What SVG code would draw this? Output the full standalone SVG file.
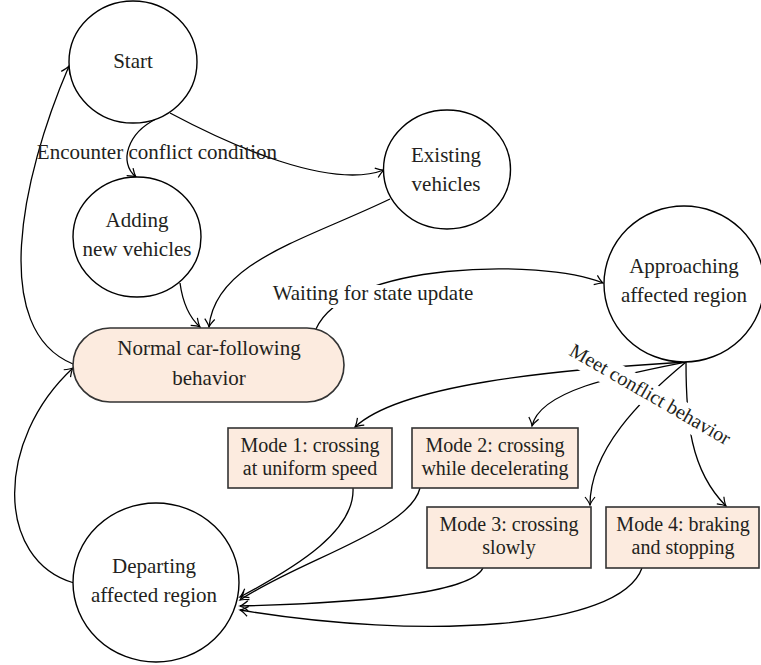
<svg xmlns="http://www.w3.org/2000/svg" width="761" height="665" viewBox="0 0 761 665">
<defs>
<style>
.c{fill:#fff;stroke:#000;stroke-width:1.4}
.b{fill:#fcebdf;stroke:#333;stroke-width:1.6}
.t{font-family:"Liberation Serif","Times New Roman",serif;font-size:21px;fill:#231f20;text-anchor:middle}
.m{font-size:20px}
.e{fill:none;stroke:#000;stroke-width:1.3}
</style>
<marker id="arr" viewBox="-10 -6 12 12" markerWidth="12" markerHeight="12" refX="0" refY="0" orient="auto" markerUnits="userSpaceOnUse">
<path d="M-8,-5 Q-3,-1 0,0 Q-3,1 -8,5" fill="none" stroke="#000" stroke-width="1.2"/>
</marker>
</defs>
<rect width="761" height="665" fill="#fff"/>

<g id="connectors">
<path class="e" d="M156,119 C128,133 118,162 136,177" marker-end="url(#arr)"/>
<path class="e" d="M170,113 C230,145 330,190 384,170" marker-end="url(#arr)"/>
<path class="e" d="M180,283 C183,305 190,318 200,327" marker-end="url(#arr)"/>
<path class="e" d="M390,199 C305,240 215,262 209,327" marker-end="url(#arr)"/>
<path class="e" d="M316,329 C345,262 540,258 603,283" marker-end="url(#arr)"/>
<path class="e" d="M73,364 C-10,330 20,180 69,66" marker-end="url(#arr)"/>
<path class="e" d="M74,583 C-5,560 -5,440 73,368" marker-end="url(#arr)"/>
<path class="e" d="M686,362 C550,370 400,385 355,427" marker-end="url(#arr)"/>
<path class="e" d="M686,362 C620,375 540,390 532,426" marker-end="url(#arr)"/>
<path class="e" d="M686,362 C640,400 590,450 590,505" marker-end="url(#arr)"/>
<path class="e" d="M686,362 C686,420 690,470 726,506" marker-end="url(#arr)"/>
<path class="e" d="M353,488 C355,530 300,565 240,597" marker-end="url(#arr)"/>
<path class="e" d="M420,488 C410,530 300,560 240,600" marker-end="url(#arr)"/>
<path class="e" d="M483,568 C470,595 350,603 240,606" marker-end="url(#arr)"/>
<path class="e" d="M642,568 C620,630 420,640 240,610" marker-end="url(#arr)"/>
<text class="t" x="157" y="159">Encounter conflict condition</text>
<rect x="270" y="285" width="206" height="23" fill="#fff"/>
<text class="t" x="373" y="300">Waiting for state update</text>
<g transform="translate(647,400) rotate(30)">
<rect x="-99" y="-18" width="198" height="26" fill="#fff"/>
<text class="t m" x="0" y="0">Meet conflict behavior</text>
</g>
</g>

<g id="start">
<ellipse class="c" cx="133" cy="62" rx="64" ry="61"/>
<text class="t" x="133" y="68">Start</text>
</g>
<g id="adding">
<ellipse class="c" cx="137" cy="237" rx="64" ry="60"/>
<text class="t" x="137" y="227">Adding</text>
<text class="t" x="137" y="256">new vehicles</text>
</g>
<g id="existing">
<ellipse class="c" cx="447" cy="169.5" rx="63.5" ry="59.5"/>
<text class="t" x="446" y="162">Existing</text>
<text class="t" x="446" y="191">vehicles</text>
</g>
<g id="approaching">
<ellipse class="c" cx="684" cy="284" rx="80" ry="78"/>
<text class="t" x="684" y="273">Approaching</text>
<text class="t" x="684" y="302">affected region</text>
</g>
<g id="normal">
<rect class="b" x="73" y="328" width="271" height="74" rx="37" ry="37"/>
<text class="t" x="209" y="355">Normal car-following</text>
<text class="t" x="209" y="385">behavior</text>
</g>
<g id="departing">
<ellipse class="c" cx="156" cy="582.5" rx="83" ry="79.5"/>
<text class="t" x="154" y="573">Departing</text>
<text class="t" x="154" y="602">affected region</text>
</g>
<g id="mode1">
<rect class="b" x="228" y="428" width="164" height="60"/>
<text class="t m" x="310" y="452">Mode 1: crossing</text>
<text class="t m" x="310" y="475">at uniform speed</text>
</g>
<g id="mode2">
<rect class="b" x="412" y="428" width="166" height="60"/>
<text class="t m" x="495" y="452">Mode 2: crossing</text>
<text class="t m" x="495" y="475">while decelerating</text>
</g>
<g id="mode3">
<rect class="b" x="427" y="507" width="164" height="61"/>
<text class="t m" x="509" y="531">Mode 3: crossing</text>
<text class="t m" x="509" y="554">slowly</text>
</g>
<g id="mode4">
<rect class="b" x="606" y="507" width="153" height="61"/>
<text class="t m" x="683" y="531">Mode 4: braking</text>
<text class="t m" x="683" y="554">and stopping</text>
</g>
</svg>
